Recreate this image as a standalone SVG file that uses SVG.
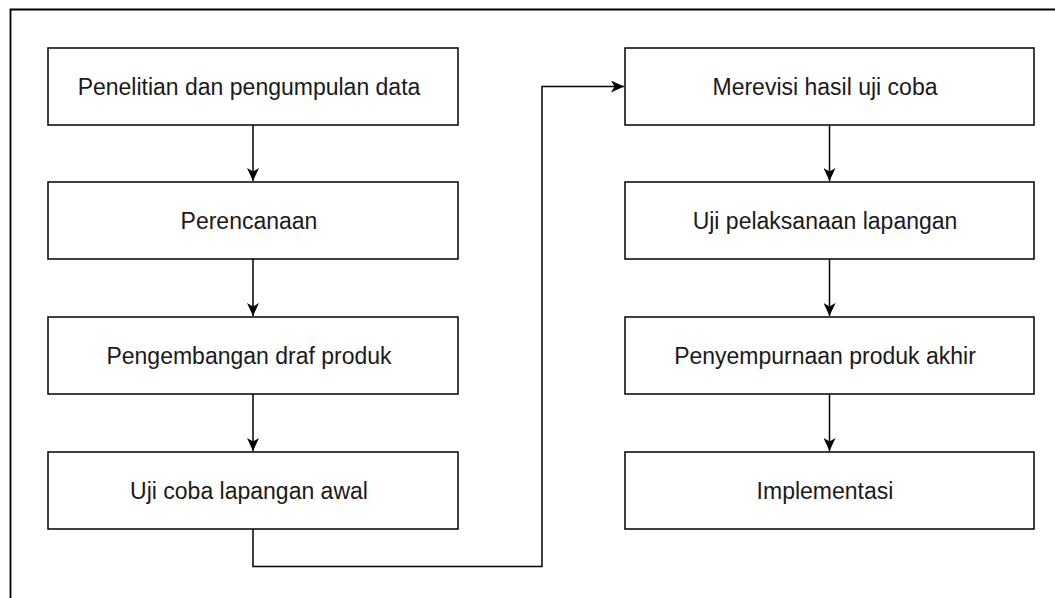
<svg xmlns="http://www.w3.org/2000/svg" width="1055" height="598" viewBox="0 0 1055 598">
<style>
.box{fill:#fff;stroke:#000;stroke-width:1.5}
.lbl{font-family:"Liberation Sans",Arial,sans-serif;font-size:23px;fill:#1a1a1a;text-anchor:middle;dominant-baseline:central}
.edge{fill:none;stroke:#000;stroke-width:1.5}
</style>
<defs>
<marker id="arr" viewBox="0 0 13 12" refX="13" refY="6" markerWidth="13" markerHeight="12" markerUnits="userSpaceOnUse" orient="auto">
<path d="M0,0 L13,6 L0,12 L3.5,6 Z" fill="#000"/>
</marker>
</defs>
<rect width="1055" height="598" fill="#fff"/>
<path d="M10.5,598 V9.5 H1055" fill="none" stroke="#000" stroke-width="1.8"/>
<g id="connectors">
<path class="edge" d="M253,125 V181" marker-end="url(#arr)"/>
<path class="edge" d="M253,259 V316" marker-end="url(#arr)"/>
<path class="edge" d="M253,394 V451" marker-end="url(#arr)"/>
<path class="edge" d="M253,529 V566.5 H542 V86.5 H624" marker-end="url(#arr)"/>
<path class="edge" d="M829.5,125 V181" marker-end="url(#arr)"/>
<path class="edge" d="M829.5,259 V316" marker-end="url(#arr)"/>
<path class="edge" d="M829.5,394 V451" marker-end="url(#arr)"/>
</g>
<g id="n1"><rect class="box" x="48" y="48" width="410" height="77"/><text class="lbl" x="249" y="87">Penelitian dan pengumpulan data</text></g>
<g id="n2"><rect class="box" x="48" y="182" width="410" height="77"/><text class="lbl" x="249" y="221">Perencanaan</text></g>
<g id="n3"><rect class="box" x="48" y="317" width="410" height="77"/><text class="lbl" x="249" y="356">Pengembangan draf produk</text></g>
<g id="n4"><rect class="box" x="48" y="452" width="410" height="77"/><text class="lbl" x="249" y="491">Uji coba lapangan awal</text></g>
<g id="n5"><rect class="box" x="625" y="48" width="409" height="77"/><text class="lbl" x="825" y="87">Merevisi hasil uji coba</text></g>
<g id="n6"><rect class="box" x="625" y="182" width="409" height="77"/><text class="lbl" x="825" y="221">Uji pelaksanaan lapangan</text></g>
<g id="n7"><rect class="box" x="625" y="317" width="409" height="77"/><text class="lbl" x="825" y="356">Penyempurnaan produk akhir</text></g>
<g id="n8"><rect class="box" x="625" y="452" width="409" height="77"/><text class="lbl" x="825" y="491">Implementasi</text></g>
</svg>
